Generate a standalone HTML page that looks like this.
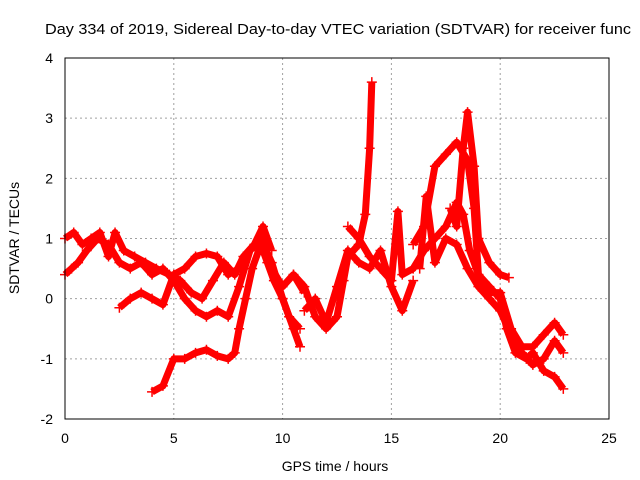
<!DOCTYPE html>
<html><head><meta charset="utf-8"><style>
body{margin:0;background:#fff}
svg{display:block;font-family:"Liberation Sans",sans-serif}
</style></head><body>
<svg id="chart" width="640" height="480">
<text x="45" y="34" font-size="15" textLength="586" lengthAdjust="spacingAndGlyphs">Day 334 of 2019, Sidereal Day-to-day VTEC variation (SDTVAR) for receiver func</text>
<text x="0" y="0" font-size="14" text-anchor="middle" transform="translate(19,238) rotate(-90)">SDTVAR / TECUs</text>
<text x="335" y="471" font-size="14" text-anchor="middle">GPS time / hours</text>
<g id="grid"></g><g id="marks"></g>
<rect x="65" y="58" width="544" height="361" fill="none" stroke="#000" stroke-width="1"/>
</svg>
<script>
const xTicks=[0,5,10,15,20,25];
const yTicks=[-2,-1,0,1,2,3,4];
const trackA=[[0,0.4],[0.3,0.5],[0.6,0.6],[1,0.8],[1.5,1.0],[2,0.9],[2.5,0.6],[3,0.5],[3.5,0.6],[4,0.4],[4.5,0.5],[5,0.3],[5.5,0.0],[6,-0.2],[6.5,-0.3],[7,-0.2],[7.5,-0.3],[8,0.2],[8.5,0.8],[9,1.0],[9.5,0.6],[10,0.0],[10.3,-0.3],[10.8,-0.5]];
const trackB=[[0,1.0],[0.4,1.1],[0.8,0.9],[1.2,1.0],[1.6,1.1],[2,0.7],[2.3,1.1],[2.7,0.8],[3.2,0.7],[3.7,0.6],[4.2,0.5],[4.8,0.4],[5.3,0.3],[5.8,0.1],[6.3,0.0],[6.8,0.3],[7.3,0.6],[7.8,0.4],[8.2,0.7],[8.7,0.9],[9.1,1.2],[9.5,0.8]];
const trackC=[[2.5,-0.15],[3,0.0],[3.5,0.1],[4,0.0],[4.5,-0.1],[5,0.4],[5.5,0.5],[6,0.7],[6.5,0.75],[7,0.7],[7.5,0.4],[8,0.5],[8.5,0.8],[9,1.0],[9.5,0.5],[10,0.2],[10.5,0.4],[11,0.1]];
const trackD=[[4,-1.55],[4.5,-1.45],[5,-1.0],[5.5,-1.0],[6,-0.9],[6.5,-0.85],[7,-0.95],[7.5,-1.0],[7.8,-0.9],[8.0,-0.5],[8.3,0.0],[8.6,0.5],[9,0.9],[9.3,0.6],[9.6,0.3],[10,0.0],[10.5,-0.5],[10.8,-0.8]];
const trackE=[[10.5,0.4],[11,0.2],[11.5,-0.3],[12,-0.5],[12.5,-0.3],[12.8,0.3],[13,0.7],[13.5,0.9],[13.8,1.4],[14,2.5],[14.1,3.6]];
const trackF=[[11,-0.2],[11.5,0.0],[12,-0.4],[12.5,0.2],[13,0.8],[13.5,0.6],[14,0.5],[14.5,0.8],[15,0.2],[15.5,-0.2],[16,0.3]];
const trackG=[[13,1.2],[13.5,1.0],[14,0.7],[14.5,0.5],[15,0.3],[15.3,1.45],[15.5,0.4],[16,0.5],[16.5,0.8],[17,1.0],[17.5,1.2],[18,1.6],[18.3,1.4],[18.6,0.8],[19,0.4],[19.5,0.2],[20,0.0],[20.3,-0.5],[20.7,-0.9],[21.2,-1.0],[21.5,-0.9],[22,-1.2],[22.5,-1.3],[22.9,-1.5]];
const trackH=[[16,0.9],[16.5,1.2],[17,2.2],[17.5,2.4],[18,2.6],[18.5,2.3],[18.8,1.5],[19,0.4],[19.5,0.1],[20,0.1],[20.5,-0.5],[21,-0.8],[21.5,-0.8],[22,-0.6],[22.5,-0.4],[22.9,-0.6]];
const trackI=[[17.7,1.5],[18,1.2],[18.3,2.5],[18.5,3.1],[18.8,2.2],[19,1.0],[19.5,0.6],[20,0.4],[20.4,0.35]];
const trackJ=[[16.3,0.5],[16.6,1.7],[17,0.6],[17.5,1.0],[18,0.9],[18.5,0.5],[19,0.2],[19.5,0.0],[20,-0.2],[20.5,-0.6],[21,-0.9],[21.5,-1.1],[22,-1.0],[22.5,-0.7],[22.9,-0.9]];
const tracks=[trackA,trackB,trackC,trackD,trackE,trackF,trackG,trackH,trackI,trackJ];
const NS="http://www.w3.org/2000/svg";
const X=v=>65+v*(544/25), Y=v=>419-(v+2)*(361/6);
const grid=document.getElementById('grid'), marks=document.getElementById('marks');
function mk(t,a,p){const e=document.createElementNS(NS,t);for(const k in a)e.setAttribute(k,a[k]);p.appendChild(e);return e;}
xTicks.forEach(t=>{
 if(t>0&&t<25){const l=mk('line',{x1:X(t),x2:X(t),y1:58,y2:419,stroke:'#a0a0a0','stroke-dasharray':'2,3'},grid);
 
 }
 const tx=mk('text',{x:X(t),y:443,'font-size':14,'text-anchor':'middle'},grid);tx.textContent=t;
 
 
});
yTicks.forEach(t=>{
 if(t>-2&&t<4){const l=mk('line',{x1:65,x2:609,y1:Y(t),y2:Y(t),stroke:'#a0a0a0','stroke-dasharray':'2,3'},grid);
 
 }
 const tx=mk('text',{x:53,y:Y(t)+5,'font-size':14,'text-anchor':'end'},grid);tx.textContent=t;
 
 
});
tracks.forEach((tr,i)=>{
 const pl=mk('polyline',{points:tr.map(p=>X(p[0])+','+Y(p[1])).join(' '),fill:'none',stroke:'#ff0000','stroke-width':7,'stroke-linejoin':'round'},marks);
 
 
 tr.forEach(p=>{const x=X(p[0]),y=Y(p[1]);
  const m=mk('path',{d:`M${x-5},${y}H${x+5}M${x},${y-5}V${y+5}`,stroke:'#ff0000','stroke-width':1.5},marks);
  
  });
});
</script>
</body></html>
